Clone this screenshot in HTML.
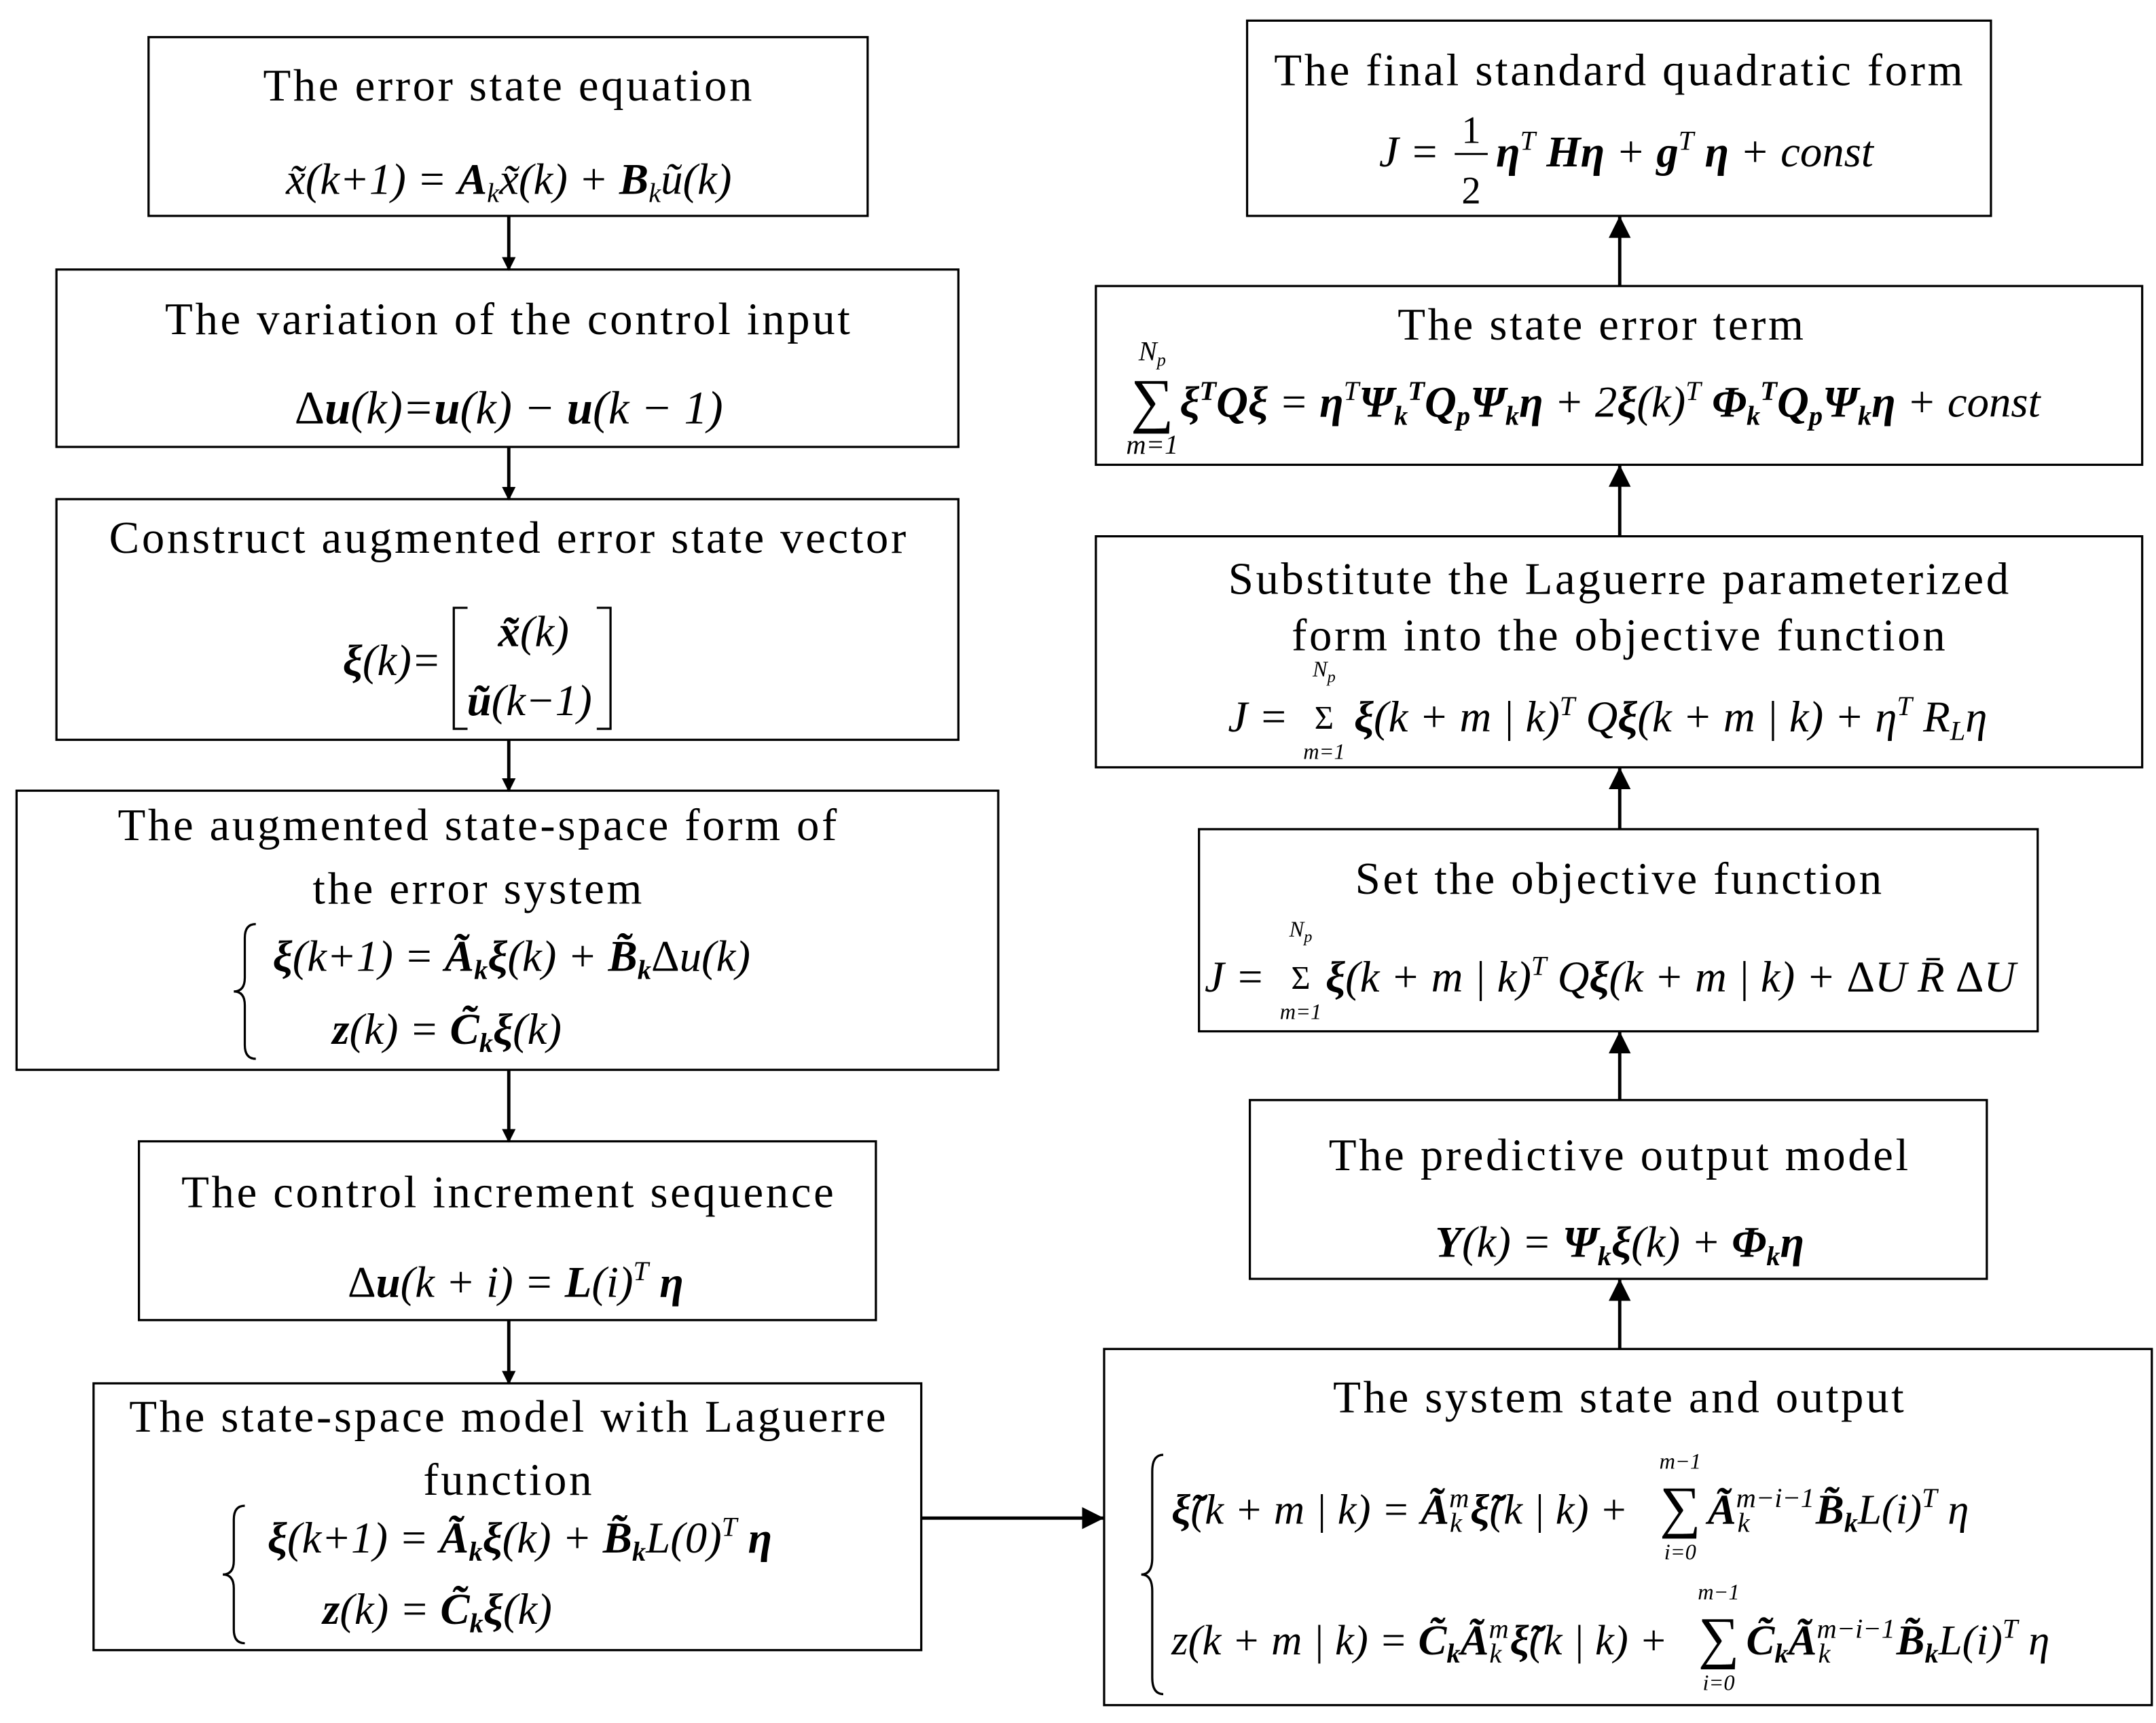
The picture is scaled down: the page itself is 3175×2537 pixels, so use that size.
<!DOCTYPE html>
<html><head><meta charset="utf-8">
<style>
html,body{margin:0;padding:0;background:#fff;}
svg{display:block;}
text{font-family:"Liberation Serif",serif;fill:#000;}
.t{font-size:33px;letter-spacing:1.8px;text-anchor:middle;}
.m{font-size:32px;font-style:italic;text-anchor:middle;}
.b{font-weight:bold;}
.n{font-style:normal;}
.s{font-size:20px;}
rect{fill:#fff;stroke:#000;stroke-width:1.6;}
line{stroke:#000;stroke-width:2.4;}
.br{fill:none;stroke:#000;stroke-width:1.6;}
</style></head>
<body>
<svg width="3175" height="2537" viewBox="0 0 1568 1253" xmlns="http://www.w3.org/2000/svg">
<defs>
<marker id="a" markerWidth="10" markerHeight="10" refX="9" refY="5" orient="auto" markerUnits="userSpaceOnUse">
<path d="M0,0 L10,5 L0,10 Z" fill="#000"/></marker>
<marker id="A" markerWidth="16" markerHeight="18" refX="16" refY="9" orient="auto" markerUnits="userSpaceOnUse">
<path d="M0,1 L16,9 L0,17 Z" fill="#000"/></marker>
</defs>

<!-- Left column -->
<rect x="108" y="27" width="523" height="130"/>
<text class="t" x="370" y="73">The  error state equation</text>
<text class="m" x="370" y="141">x̃(k+1) = <tspan class="b">A</tspan><tspan class="s" dy="6">k</tspan><tspan dy="-6">x̃(k) + </tspan><tspan class="b">B</tspan><tspan class="s" dy="6">k</tspan><tspan dy="-6">ũ(k)</tspan></text>

<rect x="41" y="196" width="656" height="129"/>
<text class="t" x="370" y="243">The variation of the control input</text>
<text class="m" x="370" y="308" style="font-size:34px"><tspan class="n">Δ</tspan><tspan class="b">u</tspan>(k)=<tspan class="b">u</tspan>(k) − <tspan class="b">u</tspan>(k − 1)</text>

<rect x="41" y="363" width="656" height="175"/>
<text class="t" x="370" y="402">Construct augmented error state vector</text>
<text class="m" x="285" y="491"><tspan class="b">ξ</tspan>(k)=</text>
<path class="br" d="M340,442 L330,442 L330,530 L340,530"/>
<path class="br" d="M434,442 L444,442 L444,530 L434,530"/>
<text class="m" x="388" y="470"><tspan class="b">x̃</tspan>(k)</text>
<text class="m" x="385" y="520"><tspan class="b">ũ</tspan>(k−1)</text>

<rect x="12" y="575" width="714" height="203"/>
<text class="t" x="348" y="611">The augmented state-space form of</text>
<text class="t" x="348" y="657">the error system</text>
<path class="br" d="M186,672 Q178,672 178,682 L178,711 Q178,721 170,721 Q178,721 178,731 L178,760 Q178,770 186,770"/>
<text class="m" x="372" y="706"><tspan class="b">ξ</tspan>(k+1) = <tspan class="b">Ã</tspan><tspan class="s b" dy="6">k</tspan><tspan dy="-6" class="b">ξ</tspan>(k) + <tspan class="b">B̃</tspan><tspan class="s b" dy="6">k</tspan><tspan dy="-6" class="n">Δ</tspan>u(k)</text>
<text class="m" x="325" y="759"><tspan class="b">z</tspan>(k) = <tspan class="b">C̃</tspan><tspan class="s b" dy="6">k</tspan><tspan dy="-6" class="b">ξ</tspan>(k)</text>

<rect x="101" y="830" width="536" height="130"/>
<text class="t" x="370" y="878">The control increment sequence</text>
<text class="m" x="375" y="943"><tspan class="n">Δ</tspan><tspan class="b">u</tspan>(k + i) = <tspan class="b">L</tspan>(i)<tspan class="s" dy="-12">T</tspan><tspan dy="12" class="b"> η</tspan></text>

<rect x="68" y="1006" width="602" height="194"/>
<text class="t" x="370" y="1041">The state-space model with Laguerre</text>
<text class="t" x="370" y="1087">function</text>
<path class="br" d="M178,1095 Q170,1095 170,1105 L170,1135 Q170,1145 162,1145 Q170,1145 170,1155 L170,1185 Q170,1195 178,1195"/>
<text class="m" x="378" y="1129"><tspan class="b">ξ</tspan>(k+1) = <tspan class="b">Ã</tspan><tspan class="s b" dy="6">k</tspan><tspan dy="-6" class="b">ξ</tspan>(k) + <tspan class="b">B̃</tspan><tspan class="s b" dy="6">k</tspan><tspan dy="-6">L(0)</tspan><tspan class="s" dy="-12">T</tspan><tspan dy="12" class="b"> η</tspan></text>
<text class="m" x="318" y="1181"><tspan class="b">z</tspan>(k) = <tspan class="b">C̃</tspan><tspan class="s b" dy="6">k</tspan><tspan dy="-6" class="b">ξ</tspan>(k)</text>

<!-- Right column -->
<rect x="907" y="15" width="541" height="142"/>
<text class="t" x="1178" y="62">The final standard quadratic form</text>
<text class="m" x="1003" y="121" style="text-anchor:start">J = </text>
<text class="m n" x="1070" y="104" style="font-size:28px">1</text>
<line x1="1058" y1="112" x2="1082" y2="112" style="stroke-width:1.5"/>
<text class="m n" x="1070" y="148" style="font-size:28px">2</text>
<text class="m" x="1088" y="121" style="text-anchor:start"><tspan class="b">η</tspan><tspan class="s" dy="-12">T</tspan><tspan dy="12" class="b"> Hη</tspan> + <tspan class="b">g</tspan><tspan class="s" dy="-12">T</tspan><tspan dy="12" class="b"> η</tspan> + const</text>

<rect x="797" y="208" width="761" height="130"/>
<text class="t" x="1165" y="247">The state error term</text>
<text x="838" y="306" style="font-size:44px" text-anchor="middle">∑</text>
<text class="m s" x="838" y="262">N<tspan style="font-size:13px" dy="4">p</tspan></text>
<text class="m s" x="838" y="330">m=1</text>
<text class="m" x="858" y="303" style="text-anchor:start;font-size:32px"><tspan class="b">ξ</tspan><tspan class="s b" dy="-12">T</tspan><tspan dy="12" class="b">Qξ</tspan> = <tspan class="b">η</tspan><tspan class="s" dy="-12">T</tspan><tspan dy="12" class="b">Ψ</tspan><tspan class="s b" dy="6">k</tspan><tspan class="s b" dy="-18">T</tspan><tspan dy="12" class="b">Q</tspan><tspan class="s b" dy="6">p</tspan><tspan dy="-6" class="b">Ψ</tspan><tspan class="s b" dy="6">k</tspan><tspan dy="-6" class="b">η</tspan> + 2<tspan class="b">ξ</tspan>(k)<tspan class="s" dy="-12">T</tspan><tspan dy="12" class="b"> Φ</tspan><tspan class="s b" dy="6">k</tspan><tspan class="s b" dy="-18">T</tspan><tspan dy="12" class="b">Q</tspan><tspan class="s b" dy="6">p</tspan><tspan dy="-6" class="b">Ψ</tspan><tspan class="s b" dy="6">k</tspan><tspan dy="-6" class="b">η</tspan> + const</text>

<rect x="797" y="390" width="761" height="168"/>
<text class="t" x="1178" y="432">Substitute the Laguerre parameterized</text>
<text class="t" x="1178" y="473">form into the objective function</text>
<text class="m" x="915" y="532">J =</text>
<text x="963" y="530" style="font-size:24px" text-anchor="middle">Σ</text>
<text class="m s" x="963" y="492" style="font-size:16px">N<tspan style="font-size:12px" dy="4">p</tspan></text>
<text class="m s" x="963" y="552" style="font-size:16px">m=1</text>
<text class="m" x="1215" y="532" style="font-size:32px"><tspan class="b">ξ</tspan>(k + m | k)<tspan class="s" dy="-12">T</tspan><tspan dy="12"> Q</tspan><tspan class="b">ξ</tspan>(k + m | k) + η<tspan class="s" dy="-12">T</tspan><tspan dy="12"> R</tspan><tspan class="s" dy="6">L</tspan><tspan dy="-6">η</tspan></text>

<rect x="872" y="603" width="610" height="147"/>
<text class="t" x="1178" y="650">Set the objective function</text>
<text class="m" x="898" y="721">J =</text>
<text x="946" y="719" style="font-size:24px" text-anchor="middle">Σ</text>
<text class="m s" x="946" y="681" style="font-size:16px">N<tspan style="font-size:12px" dy="4">p</tspan></text>
<text class="m s" x="946" y="741" style="font-size:16px">m=1</text>
<text class="m" x="1215" y="721" style="font-size:32px"><tspan class="b">ξ</tspan>(k + m | k)<tspan class="s" dy="-12">T</tspan><tspan dy="12"> Q</tspan><tspan class="b">ξ</tspan>(k + m | k) + <tspan class="n">Δ</tspan>U R̄ <tspan class="n">Δ</tspan>U</text>

<rect x="909" y="800" width="536" height="130"/>
<text class="t" x="1178" y="851">The predictive output model</text>
<text class="m" x="1178" y="914"><tspan class="b">Y</tspan>(k) = <tspan class="b">Ψ</tspan><tspan class="s b" dy="6">k</tspan><tspan dy="-6" class="b">ξ</tspan>(k) + <tspan class="b">Φ</tspan><tspan class="s b" dy="6">k</tspan><tspan dy="-6" class="b">η</tspan></text>

<rect x="803" y="981" width="762" height="259"/>
<text class="t" x="1178" y="1027">The system state and output</text>
<path class="br" d="M846,1058 Q838,1058 838,1070 L838,1133 Q838,1145 830,1145 Q838,1145 838,1157 L838,1220 Q838,1232 846,1232"/>
<text class="m" x="852" y="1108" style="text-anchor:start;font-size:31px"><tspan class="b">ξ̃</tspan>(k + m | k) = <tspan class="b">Ã</tspan><tspan class="s" dy="-12">m</tspan><tspan class="s" dx="-14" dy="18">k</tspan><tspan dy="-6" dx="6" class="b">ξ̃</tspan>(k | k) + </text>
<text x="1222" y="1110" style="font-size:42px" text-anchor="middle">∑</text>
<text class="m s" x="1222" y="1068" style="font-size:16px">m−1</text>
<text class="m s" x="1222" y="1134" style="font-size:16px">i=0</text>
<text class="m" x="1242" y="1108" style="text-anchor:start;font-size:31px"><tspan class="b">Ã</tspan><tspan class="s" dy="-12">m−i−1</tspan><tspan class="s" dx="-56" dy="18">k</tspan><tspan dy="-6" dx="48" class="b">B̃</tspan><tspan class="s b" dy="6">k</tspan><tspan dy="-6">L(i)</tspan><tspan class="s" dy="-12">T</tspan><tspan dy="12"> η</tspan></text>
<text class="m" x="852" y="1203" style="text-anchor:start;font-size:31px">z(k + m | k) = <tspan class="b">C̃</tspan><tspan class="s b" dy="6">k</tspan><tspan dy="-6" class="b">Ã</tspan><tspan class="s" dy="-12">m</tspan><tspan class="s" dx="-14" dy="18">k</tspan><tspan dy="-6" dx="6" class="b">ξ̃</tspan>(k | k) + </text>
<text x="1250" y="1205" style="font-size:42px" text-anchor="middle">∑</text>
<text class="m s" x="1250" y="1163" style="font-size:16px">m−1</text>
<text class="m s" x="1250" y="1229" style="font-size:16px">i=0</text>
<text class="m" x="1270" y="1203" style="text-anchor:start;font-size:31px"><tspan class="b">C̃</tspan><tspan class="s b" dy="6">k</tspan><tspan dy="-6" class="b">Ã</tspan><tspan class="s" dy="-12">m−i−1</tspan><tspan class="s" dx="-56" dy="18">k</tspan><tspan dy="-6" dx="48" class="b">B̃</tspan><tspan class="s b" dy="6">k</tspan><tspan dy="-6">L(i)</tspan><tspan class="s" dy="-12">T</tspan><tspan dy="12"> η</tspan></text>

<!-- Arrows left (down) -->
<line x1="370" y1="157" x2="370" y2="196" marker-end="url(#a)"/>
<line x1="370" y1="325" x2="370" y2="363" marker-end="url(#a)"/>
<line x1="370" y1="538" x2="370" y2="575" marker-end="url(#a)"/>
<line x1="370" y1="778" x2="370" y2="830" marker-end="url(#a)"/>
<line x1="370" y1="960" x2="370" y2="1006" marker-end="url(#a)"/>
<!-- Horizontal -->
<line x1="670" y1="1104" x2="803" y2="1104" marker-end="url(#A)"/>
<!-- Arrows right (up) -->
<line x1="1178" y1="981" x2="1178" y2="930" marker-end="url(#A)"/>
<line x1="1178" y1="800" x2="1178" y2="750" marker-end="url(#A)"/>
<line x1="1178" y1="603" x2="1178" y2="558" marker-end="url(#A)"/>
<line x1="1178" y1="390" x2="1178" y2="338" marker-end="url(#A)"/>
<line x1="1178" y1="208" x2="1178" y2="157" marker-end="url(#A)"/>
</svg>
</body></html>
